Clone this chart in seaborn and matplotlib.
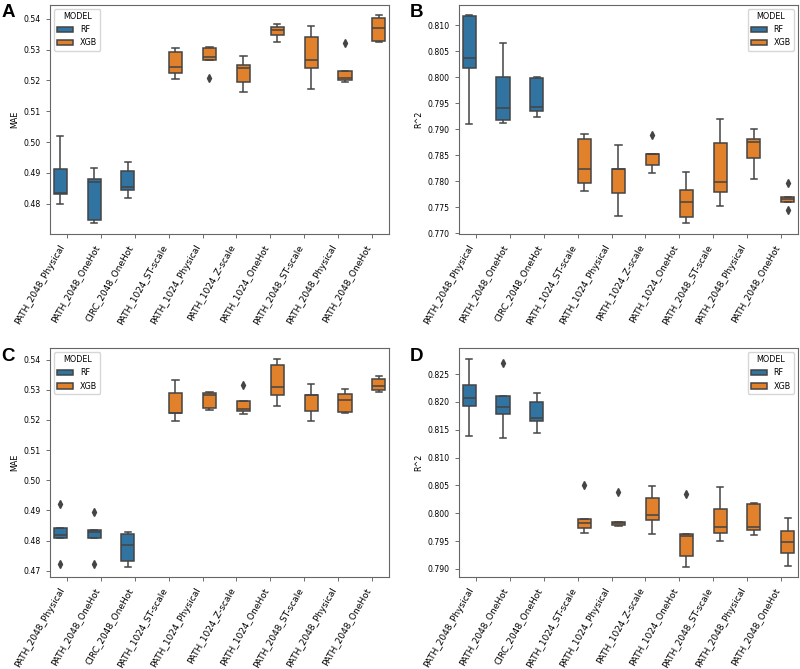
import pandas as pd
import seaborn as sns
import matplotlib.pyplot as plt

plt.rcParams["font.family"] = ["DejaVu Sans"]

# etykiety osi x (kolejność jak na wykresie)
features = [
    "PATH_2048_Physical", "PATH_2048_OneHot", "CIRC_2048_OneHot",
    "PATH_1024_ST-scale", "PATH_1024_Physical", "PATH_1024_Z-scale",
    "PATH_1024_OneHot", "PATH_2048_ST-scale", "PATH_2048_Physical",
    "PATH_2048_OneHot",
]
models = ["RF", "RF", "RF", "XGB", "XGB", "XGB", "XGB", "XGB", "XGB", "XGB"]

# wyniki 5 foldów dla każdej kombinacji
mae_a = [
    [0.4798, 0.4831, 0.4834, 0.4914, 0.5019],
    [0.4736, 0.4748, 0.4872, 0.4880, 0.4915],
    [0.4817, 0.4844, 0.4853, 0.4905, 0.4934],
    [0.5206, 0.5224, 0.5243, 0.5292, 0.5305],
    [0.5208, 0.5267, 0.5277, 0.5305, 0.5310],
    [0.5162, 0.5196, 0.5239, 0.5249, 0.5279],
    [0.5326, 0.5346, 0.5364, 0.5374, 0.5384],
    [0.5171, 0.5239, 0.5265, 0.5341, 0.5378],
    [0.5194, 0.5200, 0.5208, 0.5232, 0.5321],
    [0.5325, 0.5328, 0.5370, 0.5402, 0.5411],
]
r2_b = [
    [0.7911, 0.8018, 0.8037, 0.8117, 0.8119],
    [0.7912, 0.7918, 0.7941, 0.8000, 0.8065],
    [0.7924, 0.7935, 0.7943, 0.7999, 0.8000],
    [0.7782, 0.7796, 0.7823, 0.7881, 0.7890],
    [0.7734, 0.7778, 0.7823, 0.7824, 0.7870],
    [0.7815, 0.7831, 0.7852, 0.7853, 0.7889],
    [0.7719, 0.7731, 0.7761, 0.7784, 0.7818],
    [0.7753, 0.7780, 0.7798, 0.7873, 0.7919],
    [0.7805, 0.7844, 0.7876, 0.7882, 0.7901],
    [0.7745, 0.7760, 0.7765, 0.7769, 0.7797],
]
mae_c = [
    [0.4722, 0.4810, 0.4819, 0.4841, 0.4922],
    [0.4722, 0.4808, 0.4829, 0.4835, 0.4896],
    [0.4714, 0.4734, 0.4786, 0.4822, 0.4830],
    [0.5198, 0.5223, 0.5224, 0.5289, 0.5331],
    [0.5233, 0.5238, 0.5283, 0.5289, 0.5293],
    [0.5219, 0.5229, 0.5236, 0.5261, 0.5316],
    [0.5246, 0.5284, 0.5310, 0.5382, 0.5403],
    [0.5198, 0.5231, 0.5281, 0.5282, 0.5320],
    [0.5222, 0.5225, 0.5265, 0.5285, 0.5304],
    [0.5292, 0.5300, 0.5311, 0.5337, 0.5347],
]
r2_d = [
    [0.8138, 0.8192, 0.8208, 0.8230, 0.8278],
    [0.8136, 0.8178, 0.8191, 0.8210, 0.8270],
    [0.8144, 0.8166, 0.8171, 0.8200, 0.8217],
    [0.7964, 0.7974, 0.7983, 0.7990, 0.8050],
    [0.7977, 0.7978, 0.7982, 0.7985, 0.8038],
    [0.7963, 0.7988, 0.7996, 0.8028, 0.8049],
    [0.7904, 0.7923, 0.7959, 0.7962, 0.8035],
    [0.7950, 0.7964, 0.7975, 0.8008, 0.8047],
    [0.7960, 0.7970, 0.7976, 0.8017, 0.8019],
    [0.7905, 0.7928, 0.7948, 0.7968, 0.7992],
]


def make_df(values, metric):
    rows = []
    for i, vals in enumerate(values):
        for v in vals:
            rows.append({"KEY": f"{models[i]} {features[i]}",
                         "MODEL": models[i], metric: v})
    return pd.DataFrame(rows)


fig, axes = plt.subplots(2, 2, figsize=(8, 6.69), dpi=100)
plt.subplots_adjust(left=0.0625, right=0.9975, top=0.9925, bottom=0.1375,
                    wspace=0.206, hspace=0.5)

panels = [
    (axes[0, 0], mae_a, "MAE", "A", "upper left"),
    (axes[0, 1], r2_b, "R^2", "B", "upper right"),
    (axes[1, 0], mae_c, "MAE", "C", "upper left"),
    (axes[1, 1], r2_d, "R^2", "D", "upper right"),
]

order = [f"{m} {f}" for m, f in zip(models, features)]
line_gray = "#444444"

for ax, values, metric, letter, loc in panels:
    df = make_df(values, metric)
    sns.boxplot(data=df, x="KEY", y=metric, hue="MODEL", order=order,
                hue_order=["RF", "XGB"], dodge=True, width=0.8, gap=0.04,
                linewidth=1.1, linecolor=line_gray,
                flierprops=dict(marker="d", markersize=4,
                                markerfacecolor=line_gray,
                                markeredgecolor=line_gray),
                ax=ax)
    ax.set_xticks(range(len(features)))
    ax.set_xticklabels(features, rotation=60, ha="right", fontsize=6.5)
    ax.tick_params(axis="y", labelsize=5.6)
    ax.tick_params(length=3, width=0.6, color="#555555")
    ax.set_xlabel("")
    ax.set_ylabel(metric, fontsize=5.8, labelpad=3)
    for sp in ax.spines.values():
        sp.set_color("#666666")
        sp.set_linewidth(0.8)
    ax.legend(title="MODEL", loc=loc, fontsize=5.8, title_fontsize=5.8)
    # litera panelu
    pos = ax.get_position()
    fig.text(pos.x0 - 0.061, pos.y1 + 0.001, letter, fontsize=13.5,
             fontweight="bold", family="Liberation Sans", va="top", ha="left")

plt.savefig("out.png", dpi=100)
